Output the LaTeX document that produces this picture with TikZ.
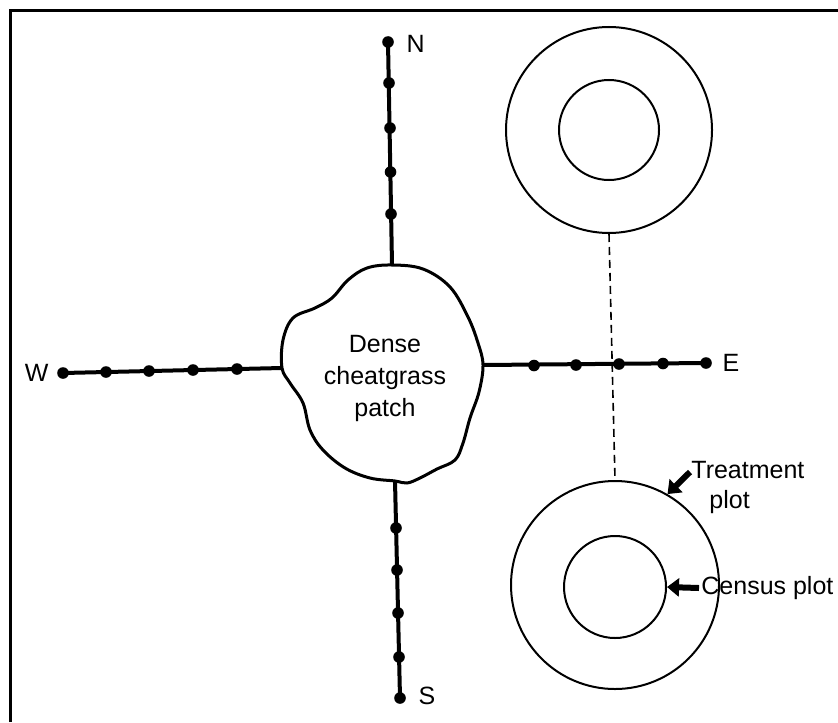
\documentclass[tikz,border=0pt]{standalone}
\usepackage{fontspec}
\setmainfont{Liberation Sans}
\usetikzlibrary{arrows.meta, positioning}

\begin{document}
\begin{tikzpicture}[
    x=0.5pt, y=-0.5pt,
    every node/.style={font=\fontsize{12.5}{15}\selectfont},
    transect/.style={line width=2pt},
    stake/.style={circle, fill=black, inner sep=0pt, minimum size=5.8pt},
    ring/.style={circle, draw, line width=1pt, inner sep=0pt},
    pointer/.style={line width=3pt, -{Triangle[width=9pt, length=6pt]}},
    dir/.style={inner sep=0pt},
  ]
    \useasboundingbox (0,0) rectangle (838,722);
    % frame
    \draw[line width=1.5pt] (10,722) |- (838,11);

    % cheatgrass patch
    \draw[line width=1.5pt] plot[smooth cycle, tension=0.6] coordinates {
      (392,265) (423,269) (450,287) (468,317) (478,343) (483,365)
      (479,392) (470,418) (463,443) (455,460) (437,469) (420,478)
      (407,483) (395,481) (370,478) (345,468) (323,450) (310,430)
      (303,403) (290,383) (282,368) (283,340) (293,318) (315,308)
      (332,298) (348,280) (367,268)};
    \node[align=center, font=\fontsize{12.5}{16}\selectfont] (patch) at (385,378)
      {Dense\\cheatgrass\\patch};

    % transects
    \coordinate (N0) at (392,265);
    \coordinate (S0) at (395,481);
    \coordinate (W0) at (282,368);
    \coordinate (E0) at (483,365);
    \foreach \i/\x/\y in {1/391/214, 2/390.5/172, 3/390/128, 4/389/83, 5/388/42}
      \node[stake] (N\i) at (\x,\y) {};
    \foreach \i/\x/\y in {1/396/528, 2/397/570, 3/398/613, 4/399/657, 5/400/698}
      \node[stake] (S\i) at (\x,\y) {};
    \foreach \i/\x/\y in {1/237/369, 2/193/370, 3/149/371, 4/106/372, 5/63/373}
      \node[stake] (W\i) at (\x,\y) {};
    \foreach \i/\x/\y in {1/534/365.5, 2/576/365, 3/619/364, 4/663/363.5, 5/706/363}
      \node[stake] (E\i) at (\x,\y) {};
    \foreach \d in {N, S, W, E}
      \draw[transect] (\d0) -- (\d5.center);

    \node[dir, right=6pt of N5, yshift=-1pt] (lblN) {N};
    \node[dir, right=6pt of S5, yshift=1pt] (lblS) {S};
    \node[dir, left=4pt of W5] (lblW) {W};
    \node[dir, right=5pt of E5] (lblE) {E};

    % plots
    \node[ring, minimum size=103pt] (treat1) at (609,130) {};
    \node[ring, minimum size=50pt] (census1) at (609,130) {};
    \node[ring, minimum size=104pt] (treat2) at (615,585) {};
    \node[ring, minimum size=51pt] (census2) at (615,587) {};
    \draw[line width=0.8pt, dash pattern=on 4pt off 2.5pt] (treat1.south) -- (treat2.north);

    % labels
    \node[align=left, anchor=west, inner sep=0pt] (treatlbl) at (691,487)
      {Treatment\\\hspace*{9pt}plot};
    \coordinate (treatfrom) at (690,472);
    \draw[pointer] (treatfrom) -- (treat2.60);
    \node[anchor=west, inner sep=1pt] (censuslbl) at (699,588) {Census plot};
    \draw[pointer] (censuslbl.west) -- (census2.east);
\end{tikzpicture}
\end{document}
